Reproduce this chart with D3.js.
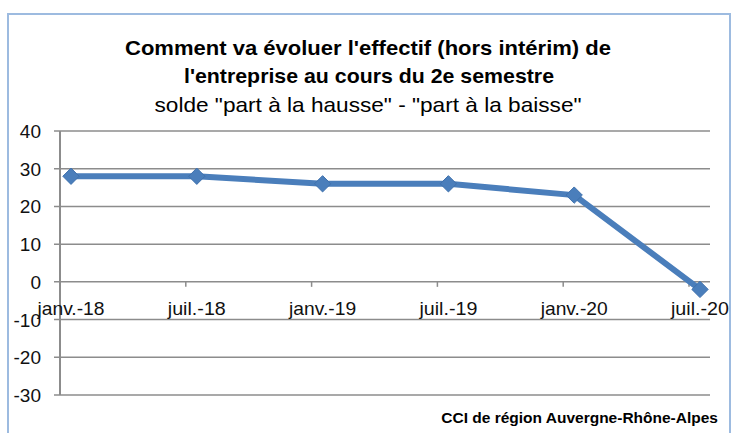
<!DOCTYPE html>
<html lang="fr">
<head>
<meta charset="utf-8">
<script src="https://cdn.jsdelivr.net/npm/d3@7"></script>
<style>
	body { margin: 0; background: #fff; }
	svg { font-family: "Liberation Sans", Arial, sans-serif; }
	.grid line { stroke: #8c8c8c; stroke-width: 1.5; }
</style>
</head>
<body>
<svg id="chart" width="736" height="433"></svg>
<script>
	var categories = ["janv.-18", "juil.-18", "janv.-19", "juil.-19", "janv.-20", "juil.-20"];
	var values = [28, 28, 26, 26, 23, -2];
	var yTicks = [40, 30, 20, 10, 0, -10, -20, -30];
	var titleLines = ["Comment va évoluer l'effectif (hors intérim) de", "l'entreprise au cours du 2e semestre"];
	var subtitle = "solde \"part à la hausse\" - \"part à la baisse\"";
	var source = "CCI de région Auvergne-Rhône-Alpes";

	var svg = d3.select("#chart");

	// outer frame (bottom edge runs off the picture)
	svg.append("path")
		.attr("d", "M8,433V14H730V433")
		.attr("fill", "none")
		.attr("stroke", "#9dbbe0")
		.attr("stroke-width", 2);

	var left = 60, right = 710;

	var x = d3.scalePoint()
		.domain(categories)
		.range([71, 700]);

	var y = d3.scaleLinear()
		.domain([-30, 40])
		.range([395, 131]);

	// gridlines
	svg.append("g").attr("class", "grid")
		.selectAll("line")
		.data(yTicks)
		.enter().append("line")
		.attr("x1", left - 6).attr("x2", right)
		.attr("y1", function(d) { return y(d); })
		.attr("y2", function(d) { return y(d); });

	// y labels
	svg.append("g")
		.selectAll("text")
		.data(yTicks)
		.enter().append("text")
		.attr("x", 41)
		.attr("y", function(d) { return y(d) + 7; })
		.attr("text-anchor", "end")
		.attr("font-size", 19)
		.attr("fill", "#111")
		.text(function(d) { return d; });

	// y axis line
	svg.append("line")
		.attr("x1", left).attr("x2", left)
		.attr("y1", y(40)).attr("y2", y(-30))
		.attr("stroke", "#8c8c8c").attr("stroke-width", 2);

	// x axis at zero: tick marks sit a little left of the points
	svg.append("g")
		.selectAll("line")
		.data(categories.slice(1))
		.enter().append("line")
		.attr("x1", function(d) { return x(d) - 11; })
		.attr("x2", function(d) { return x(d) - 11; })
		.attr("y1", y(0)).attr("y2", y(0) + 5)
		.attr("stroke", "#8c8c8c").attr("stroke-width", 1.5);

	svg.append("g")
		.selectAll("text")
		.data(categories)
		.enter().append("text")
		.attr("x", function(d) { return x(d); })
		.attr("y", y(0) + 33)
		.attr("text-anchor", "middle")
		.attr("font-size", 19)
		.attr("fill", "#111")
		.attr("textLength", function(d) { return d.indexOf("janv") === 0 ? 67 : 58; })
		.attr("lengthAdjust", "spacingAndGlyphs")
		.text(function(d) { return d; });

	// series
	var line = d3.line()
		.x(function(d, i) { return x(categories[i]); })
		.y(function(d) { return y(d); });

	svg.append("path")
		.datum(values)
		.attr("d", line)
		.attr("fill", "none")
		.attr("stroke", "#4a7ebb")
		.attr("stroke-width", 6)
		.attr("stroke-linejoin", "round");

	svg.append("g")
		.selectAll("path")
		.data(values)
		.enter().append("path")
		.attr("d", d3.symbol().type(d3.symbolDiamond2).size(170))
		.attr("transform", function(d, i) {
			return "translate(" + x(categories[i]) + "," + y(d) + ")";
		})
		.attr("fill", "#4a7ebb")
		.attr("stroke", "#3f71ad")
		.attr("stroke-width", 1);

	// titles
	svg.append("text")
		.attr("x", 368).attr("y", 55)
		.attr("text-anchor", "middle")
		.attr("font-size", 21).attr("font-weight", "bold")
		.attr("textLength", 486).attr("lengthAdjust", "spacingAndGlyphs")
		.text(titleLines[0]);

	svg.append("text")
		.attr("x", 369).attr("y", 83)
		.attr("text-anchor", "middle")
		.attr("font-size", 21).attr("font-weight", "bold")
		.attr("textLength", 370).attr("lengthAdjust", "spacingAndGlyphs")
		.text(titleLines[1]);

	svg.append("text")
		.attr("x", 368).attr("y", 112)
		.attr("text-anchor", "middle")
		.attr("font-size", 21)
		.attr("textLength", 427).attr("lengthAdjust", "spacingAndGlyphs")
		.text(subtitle);

	svg.append("text")
		.attr("x", 718).attr("y", 423)
		.attr("text-anchor", "end")
		.attr("font-size", 15.5).attr("font-weight", "bold")
		.text(source);
</script>
</body>
</html>
